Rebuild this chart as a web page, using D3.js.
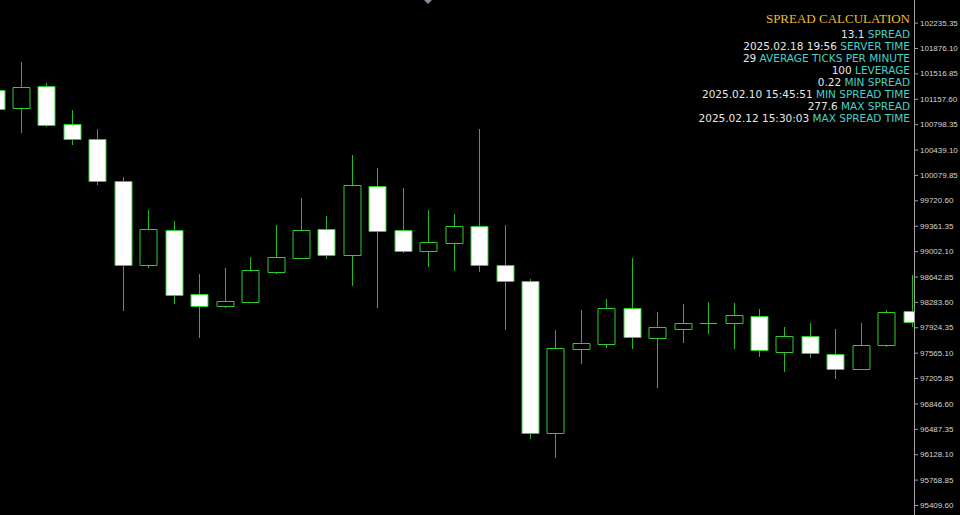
<!DOCTYPE html>
<html>
<head>
<meta charset="utf-8">
<script src="https://cdn.jsdelivr.net/npm/d3@7"></script>
<style>
    html, body { margin: 0; padding: 0; background: #000; }
    svg { display: block; }
</style>
</head>
<body>
<svg id="chart" width="960" height="515"></svg>
<script>
// candle data, oldest first (bar 0 is cut by the left edge)
var opens  = [101281.6, 101022.7, 101334.0, 100796.3, 100584.0, 99998.2, 98805.4, 99296.4, 98390.8, 98221.0,
              98286.0, 98710.5, 98904.4, 99314.8, 98951.1, 99919.0, 99304.8, 99007.7, 99120.9, 99357.2,
              98801.1, 98583.2, 96432.4, 97621.0, 97691.7, 98201.1, 97776.6, 97904.0, 97980.4, 97980.4,
              98087.9, 97578.6, 97796.5, 97546.0, 97338.0, 97677.6, 98154.5];
var highs  = [101309.9, 101673.6, 101376.4, 100998.6, 100729.8, 100046.3, 99583.6, 99432.2, 98678.0, 98758.7,
              98922.8, 99371.4, 99753.4, 99498.7, 100366.1, 100173.7, 99899.1, 99583.6, 99527.0, 100729.8,
              99371.4, 98603.0, 97885.6, 98164.4, 98324.3, 98900.2, 98140.3, 98253.5, 98281.8, 98271.9,
              98182.8, 97923.8, 97980.4, 97895.5, 97980.4, 98164.4, 98663.9];
var lows   = [100970.3, 100677.4, 100753.8, 100499.1, 99937.4, 98154.5, 98758.7, 98253.5, 97768.2, 98192.7,
              98280.0, 98678.0, 98904.4, 98894.5, 98512.4, 98192.7, 98979.4, 98781.3, 98724.7, 98710.5,
              97885.6, 96339.0, 96070.2, 97408.7, 97635.1, 97612.5, 97060.7, 97705.9, 97829.0, 97621.0,
              97499.3, 97295.5, 97493.6, 97188.0, 97319.6, 97645.1, 97932.3];
var closes = [101012.8, 101328.3, 100790.6, 100584.0, 99994.0, 98805.4, 99314.8, 98376.6, 98221.0, 98296.0,
              98734.6, 98914.3, 99300.6, 98951.1, 99937.4, 99290.7, 99007.7, 99135.0, 99357.2, 98805.4,
              98583.2, 96432.4, 97626.7, 97701.7, 98201.1, 97790.8, 97923.8, 97984.7, 97980.4, 98093.6,
              97598.4, 97796.5, 97555.9, 97338.0, 97669.1, 98144.5, 97994.6];

// price scale labels
var priceTicks = [102235.35, 101876.10, 101516.85, 101157.60, 100798.35, 100439.10, 100079.85, 99720.60,
                  99361.35, 99002.10, 98642.85, 98283.60, 97924.35, 97565.10, 97205.85, 96846.60,
                  96487.35, 96128.10, 95768.85, 95409.60];

// spread panel
var panelTitle = "SPREAD CALCULATION";
var infoValues = ["13.1", "2025.02.18 19:56", "29", "100", "0.22", "2025.02.10 15:45:51", "277.6", "2025.02.12 15:30:03"];
var infoLabels = ["SPREAD", "SERVER TIME", "AVERAGE TICKS PER MINUTE", "LEVERAGE", "MIN SPREAD",
                  "MIN SPREAD TIME", "MAX SPREAD", "MAX SPREAD TIME"];

var svg = d3.select("#chart");
var width = 960, height = 515;
var axisX = 914;

var candleGreen = "#2ccf2c",
    wickGreen = "#24b824";

svg.append("rect")
    .attr("width", width)
    .attr("height", height)
    .attr("fill", "#000");

var x = d3.scaleLinear().domain([0, opens.length - 1]).range([-4.4, 911.7]);
var y = d3.scaleLinear().domain([95409.60, 102235.35]).range([505, 22.6]);

// clip candles at the price scale
svg.append("clipPath").attr("id", "plot-clip")
    .append("rect")
    .attr("x", 0).attr("y", 0)
    .attr("width", axisX).attr("height", height);

var plot = svg.append("g").attr("clip-path", "url(#plot-clip)");

var bars = d3.range(opens.length).map(function (i) {
    return { i: i, o: opens[i], h: highs[i], l: lows[i], c: closes[i] };
});

var candle = plot.selectAll("g.candle").data(bars)
    .enter().append("g").attr("class", "candle");

function cx(d) {
    return Math.round(x(d.i)) + 0.5;
}

// wicks
candle.append("line")
    .attr("x1", cx).attr("x2", cx)
    .attr("y1", function (d) { return Math.round(y(d.h)); })
    .attr("y2", function (d) { return Math.round(y(d.l)); })
    .attr("stroke", wickGreen)
    .attr("stroke-width", 1);

// bodies: white = bear, black = bull (path so a doji still shows a bar)
candle.append("path")
    .attr("d", function (d) {
        var x0 = cx(d) - 8.5, x1 = cx(d) + 8.5;
        var y0 = Math.round(y(Math.max(d.o, d.c))) + 0.5;
        var y1 = Math.round(y(Math.min(d.o, d.c))) + 0.5;
        return "M" + x0 + "," + y0 + "H" + x1 + "V" + y1 + "H" + x0 + "Z";
    })
    .attr("fill", function (d) { return d.c < d.o ? "#ffffff" : "#000000"; })
    .attr("stroke", candleGreen)
    .attr("stroke-width", 1);

// price axis
svg.append("line")
    .attr("x1", axisX + 0.5).attr("x2", axisX + 0.5)
    .attr("y1", 0).attr("y2", height)
    .attr("stroke", "#a0a0a0");

var yAxis = d3.axisRight(y)
    .tickValues(priceTicks)
    .tickSize(3)
    .tickPadding(2)
    .tickFormat(d3.format(".2f"));

var axisG = svg.append("g")
    .attr("transform", "translate(" + (axisX + 1) + ",0)")
    .call(yAxis);

axisG.select(".domain").remove();
axisG.selectAll(".tick line").attr("stroke", "#a0a0a0");
axisG.selectAll(".tick text")
    .attr("fill", "#d4d4d4")
    .attr("font-family", "'Liberation Sans', Arial, sans-serif")
    .attr("font-size", 8);

// shift marker at the top
svg.append("path")
    .attr("d", "M424,0 L432,0 L428,4 Z")
    .attr("fill", "#8c8ca0");

// spread calculation panel
svg.append("text")
    .attr("x", 910)
    .attr("y", 22.6)
    .attr("text-anchor", "end")
    .attr("font-family", "'Liberation Serif', 'Times New Roman', serif")
    .attr("font-size", 13)
    .attr("fill", "#e8bf2c")
    .text(panelTitle);

infoValues.forEach(function (v, i) {
    var t = svg.append("text")
        .attr("x", 910)
        .attr("y", 37.5 + i * 12)
        .attr("text-anchor", "end")
        .attr("font-family", "'DejaVu Sans', Verdana, sans-serif")
        .attr("font-size", 10.5);
    t.append("tspan").attr("fill", "#e6e6e6").text(v + " ");
    t.append("tspan").attr("fill", "#48d1cc").text(infoLabels[i]);
});
</script>
</body>
</html>
